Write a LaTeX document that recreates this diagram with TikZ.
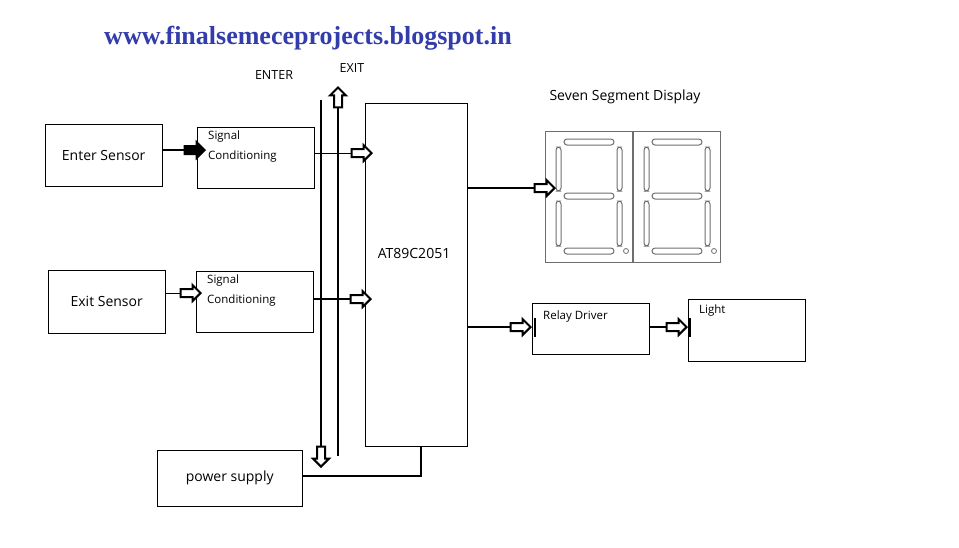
\documentclass[tikz,border=0pt]{standalone}
\usepackage{fontspec}
\setmainfont{Open Sans}
\newfontfamily\titlefont{Liberation Serif}
\usetikzlibrary{shapes.arrows,positioning}
\definecolor{titleblue}{RGB}{50,60,170}
\definecolor{seggray}{RGB}{110,110,110}
\tikzset{
    blk/.style={draw, rectangle, anchor=north west, inner sep=0pt},
    lbl/.style={font=\fontsize{14}{16}\selectfont},
    sml/.style={anchor=north west, align=left, inner sep=0pt, font=\fontsize{11.5}{20}\selectfont},
    thk/.style={line width=2.4pt},
    harrow/.style={draw, single arrow, line width=2pt, fill=white, minimum height=20pt,
        single arrow head extend=4pt, inner sep=3pt, anchor=tip},
    seg/.style={draw=seggray, rounded corners=3pt, line width=1pt}
}
\begin{document}
\begin{tikzpicture}[x=1pt,y=-1pt]
    \useasboundingbox (0,0) rectangle (959,547);

        % Title and bus labels
        \node[font=\titlefont\bfseries\fontsize{26}{28}\selectfont, text=titleblue] (title) at (308,38) {www.finalsemeceprojects.blogspot.in};
        \node[font=\fontsize{12.5}{14}\selectfont] (enterlbl) at (274,75) {ENTER};
        \node[font=\fontsize{12.5}{14}\selectfont] (exitlbl) at (352,68) {EXIT};

        % Blocks
        \node[blk, minimum width=117pt, minimum height=62pt] (ensens) at (45,124) {};
        \node[lbl] at (ensens.center) {Enter Sensor};
        \node[blk, minimum width=117pt, minimum height=61pt] (sc1) at (197,127) {};
        \node[sml] at (208,131) {Signal\\Conditioning};
        \node[blk, minimum width=117pt, minimum height=63pt] (exsens) at (48,270) {};
        \node[lbl] at (exsens.center) {Exit Sensor};
        \node[blk, minimum width=117pt, minimum height=61pt] (sc2) at (196,271) {};
        \node[sml] at (207,275) {Signal\\Conditioning};
        \node[blk, minimum width=102pt, minimum height=343pt] (mcu) at (365,103) {};
        \node[lbl] at (414,253) {AT89C2051};
        \node[blk, minimum width=117pt, minimum height=51pt] (relay) at (532,303) {};
        \node[sml] at (543,311) {Relay Driver};
        \node[blk, minimum width=117pt, minimum height=62pt] (light) at (688,299) {};
        \node[sml] at (699,305) {Light};
        \node[blk, minimum width=145pt, minimum height=56pt] (psu) at (157,450) {};
        \node[lbl] at (psu.center) {power supply};

        % Seven segment display
        \node[lbl] (disptitle) at (625,97) {Seven Segment Display};
        \foreach \d in {0,1} {
            \begin{scope}[xshift=\d*88pt]
                \draw[seggray, line width=0.9pt] (545,131) rectangle (632,262);
                \draw[seg] (564,139) rectangle (614,145);
                \draw[seg] (564,193) rectangle (614,199);
                \draw[seg] (564,248) rectangle (614,254);
                \draw[seg] (556,147) rectangle (561,191);
                \draw[seg] (617,147) rectangle (622,191);
                \draw[seg] (556,201) rectangle (561,246);
                \draw[seg] (617,201) rectangle (622,246);
                \draw[seggray, line width=0.8pt] (626,251) circle (2.5pt);
            \end{scope}
        }
        \coordinate (disp) at (556,188);

        % Bus lines
        \coordinate (entertop) at (321,100);
        \coordinate (enterbot) at (321,452);
        \coordinate (exitbot) at (338,456);
        \coordinate (exittop) at (338,104);
        \draw[thk] (entertop) -- (enterbot);
        \node[harrow, rotate=-90] at (321,468) {};
        \draw[thk] (exitbot) -- (exittop);
        \node[harrow, rotate=90] at (338,86) {};

        % Connections
        \draw[thk] (ensens.east |- 0,150) -- (190,150);
        \node[harrow, fill=black] at (206,150) {};
        \draw (sc1.east |- 0,153) -- (356,153);
        \node[harrow] at (373,153) {};
        \draw (exsens.east |- 0,293) -- (185,293);
        \node[harrow] at (202,293) {};
        \draw[thk] (sc2.east |- 0,299) -- (356,299);
        \node[harrow] at (372,299) {};
        \draw[thk] (mcu.east |- 0,188) -- (536,188);
        \node[harrow] at (disp) {};
        \draw[thk] (mcu.east |- 0,327) -- (515,327);
        \node[harrow] at (relay.west |- 0,327) {};
        \draw[thk] (relay.east |- 0,327) -- (671,327);
        \node[harrow] at (light.west |- 0,327) {};
        \draw[thk] (psu.east |- 0,476) -| (421,446);
        \draw[thk] (535,318) -- (535,337);
        \draw[thk] (690,318) -- (690,337);
\end{tikzpicture}
\end{document}
